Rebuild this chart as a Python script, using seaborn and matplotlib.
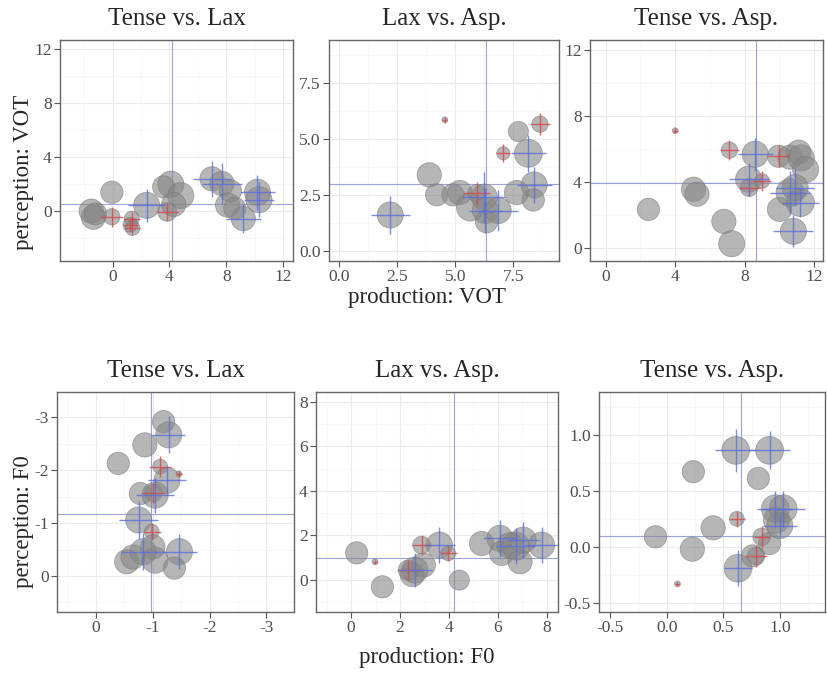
import numpy as np
import pandas as pd
import seaborn as sns
import matplotlib.pyplot as plt
from matplotlib.ticker import FixedLocator, FormatStrFormatter

# ---- data: x, y, n (circle size), bar group, x half-width, y half-width ----
# VOT, Tense vs. Lax
vot_tl_x = [-1.5, -1.35, -1.2, -0.05, -0.05, 1.35, 1.25, 1.4, 2.4, 3.6, 4.1, 4.8, 3.85, 4.3, 7.0, 7.7, 8.3, 8.1, 8.6, 9.2, 10.2, 10.3]
vot_tl_y = [0.0, -0.45, -0.2, 1.4, -0.42, -0.55, -1.0, -1.25, 0.43, 1.8, 2.0, 1.15, -0.05, 0.5, 2.4, 2.05, 1.5, 0.45, 0.2, -0.55, 1.4, 0.85]
vot_tl_n = [7, 7, 6, 6, 3.5, 3, 3, 3, 8, 6, 8, 8, 4.5, 7, 7, 7, 6, 7, 6, 7, 8, 8]
vot_tl_bar = ['none', 'none', 'none', 'none', 'weak', 'weak', 'weak', 'weak', 'strong', 'none', 'none', 'none', 'weak', 'none',
              'strong', 'strong', 'none', 'none', 'none', 'strong', 'strong', 'strong']
vot_tl_xe = [0, 0, 0, 0, 0.8, 0.55, 0.55, 0.5, 1.3, 0, 0, 0, 0.75, 0, 1.35, 1.4, 0, 0, 0, 1.25, 1.25, 1.05]
vot_tl_ye = [0, 0, 0, 0, 0.72, 0.5, 0.45, 0.45, 1.25, 0, 0, 0, 0.65, 0, 1.35, 1.55, 0, 0, 0, 1.1, 1.3, 1.3]
vot_tl_ref = (4.16, 0.5)

# VOT, Lax vs. Asp.
vot_la_x = [2.2, 3.88, 4.2, 4.55, 4.9, 5.2, 5.65, 5.92, 6.25, 6.3, 6.85, 6.35, 7.07, 7.64, 7.72, 8.15, 8.4, 8.36, 8.65]
vot_la_y = [1.6, 3.39, 2.5, 5.84, 2.5, 2.6, 1.95, 2.57, 2.4, 1.8, 1.8, 1.3, 4.35, 2.6, 5.32, 4.35, 2.94, 2.27, 5.65]
vot_la_n = [8, 7, 6, 1, 6, 7, 9, 4, 8, 8, 8, 6, 2.5, 7, 5, 9, 8, 6, 3.5]
vot_la_bar = ['strong', 'none', 'none', 'weak', 'none', 'none', 'none', 'weak', 'strong', 'strong', 'strong', 'none', 'weak',
              'none', 'none', 'strong', 'strong', 'none', 'weak']
vot_la_xe = [0.83, 0, 0, 0.1, 0, 0, 0, 0.57, 0.9, 0.7, 0.85, 0, 0.3, 0, 0, 0.75, 0.75, 0, 0.45]
vot_la_ye = [0.85, 0, 0, 0.12, 0, 0, 0, 0.52, 1.1, 1.0, 0.9, 0, 0.4, 0, 0, 0.82, 0.82, 0, 0.5]
vot_la_ref = (6.31, 2.97)

# VOT, Tense vs. Asp.
vot_ta_x = [2.46, 4.0, 5.05, 5.25, 6.8, 7.25, 7.12, 8.6, 8.22, 8.99, 8.25, 9.95, 10.6, 11.1, 11.25, 11.5, 10.0, 10.6, 10.9, 11.2, 10.8]
vot_ta_y = [2.33, 7.1, 3.55, 3.25, 1.6, 0.25, 5.92, 5.68, 4.16, 4.05, 3.65, 5.55, 5.5, 5.8, 5.45, 4.75, 2.33, 3.35, 3.65, 2.74, 1.0]
vot_ta_n = [6, 1, 7, 7, 7, 8, 3.5, 8, 8, 3, 4, 6, 7, 7, 8, 8, 7, 9, 8, 9, 8]
vot_ta_bar = ['none', 'weak', 'none', 'none', 'none', 'none', 'weak', 'strong', 'strong', 'weak', 'weak', 'weak', 'none', 'none',
              'none', 'none', 'none', 'strong', 'strong', 'strong', 'strong']
vot_ta_xe = [0, 0.15, 0, 0, 0, 0, 0.55, 1.0, 1.15, 0.5, 0.6, 0.62, 0, 0, 0, 0, 0, 1.15, 1.1, 1.06, 1.15]
vot_ta_ye = [0, 0.15, 0, 0, 0, 0, 0.6, 1.0, 1.0, 0.6, 0.5, 0.66, 0, 0, 0, 0, 0, 1.3, 1.1, 0.9, 0.96]
vot_ta_ref = (8.66, 3.95)

# F0, Tense vs. Lax
f0_tl_x = [-1.19, -1.28, -0.86, -0.39, -1.13, -1.46, -1.25, -0.78, -1.01, -1.04, -0.75, -0.98, -0.54, -0.65, -0.83, -1.04, -1.0, -1.47, -1.38]
f0_tl_y = [-2.92, -2.67, -2.48, -2.13, -2.07, -1.93, -1.81, -1.56, -1.57, -1.53, -1.06, -0.84, -0.27, -0.36, -0.46, -0.3, -0.55, -0.46, -0.15]
f0_tl_n = [6, 8, 7, 6, 3, 1, 8, 6, 4, 8, 8, 3, 7, 7, 8, 8, 7, 8, 6]
f0_tl_bar = ['none', 'strong', 'none', 'none', 'weak', 'weak', 'strong', 'none', 'weak', 'strong', 'strong', 'weak', 'none', 'none',
             'strong', 'none', 'none', 'strong', 'none']
f0_tl_xe = [0, 0.29, 0, 0, 0.19, 0.05, 0.34, 0, 0.2, 0.34, 0.34, 0.16, 0, 0, 0.39, 0, 0, 0.31, 0]
f0_tl_ye = [0, 0.35, 0, 0, 0.2, 0.05, 0.28, 0, 0.19, 0.33, 0.36, 0.16, 0, 0, 0.35, 0, 0, 0.33, 0]
f0_tl_ref = (-0.96, -1.17)

# F0, Lax vs. Asp.
f0_la_x = [0.23, 0.98, 1.28, 2.5, 2.95, 2.34, 2.61, 2.88, 3.61, 3.97, 4.42, 5.33, 6.08, 6.15, 6.5, 6.73, 6.9, 7.03, 7.78]
f0_la_y = [1.22, 0.82, -0.3, 0.25, 0.67, 0.45, 0.45, 1.57, 1.57, 1.2, 0.0, 1.64, 1.87, 1.2, 1.55, 1.52, 0.82, 1.79, 1.57]
f0_la_n = [6, 1, 6, 7, 7, 5, 8, 4, 8, 3, 5, 7, 8, 7, 8, 9, 7, 8, 8]
f0_la_bar = ['none', 'weak', 'none', 'none', 'none', 'weak', 'strong', 'weak', 'strong', 'weak', 'none', 'none', 'strong', 'none',
             'none', 'strong', 'none', 'strong', 'strong']
f0_la_xe = [0, 0.08, 0, 0, 0, 0.48, 0.68, 0.41, 0.65, 0.34, 0, 0, 0.71, 0, 0, 0.8, 0, 0.7, 0.68]
f0_la_ye = [0, 0.08, 0, 0, 0, 0.45, 0.75, 0.45, 0.82, 0.34, 0, 0, 0.82, 0, 0, 0.82, 0, 0.8, 0.82]
f0_la_ref = (4.21, 1.01)

# F0, Tense vs. Asp.
f0_ta_x = [-0.1, 0.094, 0.235, 0.226, 0.41, 0.61, 0.62, 0.63, 0.81, 0.76, 0.79, 0.84, 0.91, 0.91, 0.97, 0.96, 1.03, 1.0]
f0_ta_y = [0.09, -0.33, 0.67, -0.02, 0.17, 0.86, 0.25, -0.19, 0.61, -0.08, -0.08, 0.09, 0.03, 0.86, 0.24, 0.34, 0.34, 0.19]
f0_ta_n = [6, 1, 6, 7, 7, 9, 3, 9, 6, 6, 4, 4, 6, 9, 8, 9, 9, 8]
f0_ta_bar = ['none', 'weak', 'none', 'none', 'none', 'strong', 'weak', 'strong', 'none', 'none', 'weak', 'weak', 'none', 'strong',
             'none', 'strong', 'strong', 'strong']
f0_ta_xe = [0, 0.02, 0, 0, 0, 0.18, 0.07, 0.12, 0, 0, 0.1, 0.07, 0, 0.18, 0, 0.16, 0.19, 0.15]
f0_ta_ye = [0, 0.02, 0, 0, 0, 0.19, 0.07, 0.16, 0, 0, 0.1, 0.1, 0, 0.17, 0, 0.16, 0.16, 0.1]
f0_ta_ref = (0.66, 0.1)

titles = ['Tense vs. Lax', 'Lax vs. Asp.', 'Tense vs. Asp.']

sns.set_style('white')
plt.rcParams['font.family'] = ['Liberation Serif', 'DejaVu Serif']
plt.rcParams['axes.unicode_minus'] = False

fig = plt.figure(figsize=(8.27, 6.73), dpi=100)

W, H = 827, 673
# panel boxes in pixels: left, top, right, bottom
boxes = [(60, 40, 293, 261), (329, 40, 559, 261), (590, 40, 823, 261),
         (57, 392, 294, 612), (316, 392, 558, 612), (599, 392, 825, 612)]

panels = [
    (vot_tl_x, vot_tl_y, vot_tl_n, vot_tl_bar, vot_tl_xe, vot_tl_ye, vot_tl_ref,
     (-3.7, 12.7), (-3.7, 12.7), [0, 4, 8, 12], [0, 4, 8, 12], '%g', '%g'),
    (vot_la_x, vot_la_y, vot_la_n, vot_la_bar, vot_la_xe, vot_la_ye, vot_la_ref,
     (-0.44, 9.47), (-0.45, 9.4), [0, 2.5, 5, 7.5], [0, 2.5, 5, 7.5], '%.1f', '%.1f'),
    (vot_ta_x, vot_ta_y, vot_ta_n, vot_ta_bar, vot_ta_xe, vot_ta_ye, vot_ta_ref,
     (-0.9, 12.5), (-0.8, 12.6), [0, 4, 8, 12], [0, 4, 8, 12], '%g', '%g'),
    (f0_tl_x, f0_tl_y, f0_tl_n, f0_tl_bar, f0_tl_xe, f0_tl_ye, f0_tl_ref,
     (0.69, -3.49), (0.68, -3.48), [0, -1, -2, -3], [0, -1, -2, -3], '%g', '%g'),
    (f0_la_x, f0_la_y, f0_la_n, f0_la_bar, f0_la_xe, f0_la_ye, f0_la_ref,
     (-1.43, 8.45), (-1.43, 8.43), [0, 2, 4, 6, 8], [0, 2, 4, 6, 8], '%g', '%g'),
    (f0_ta_x, f0_ta_y, f0_ta_n, f0_ta_bar, f0_ta_xe, f0_ta_ye, f0_ta_ref,
     (-0.6, 1.4), (-0.58, 1.38), [-0.5, 0, 0.5, 1.0], [-0.5, 0, 0.5, 1.0], '%.1f', '%.1f'),
]

bar_colors = {'weak': '#d9464a', 'strong': '#5a6fdc'}

for i, (px, py, pn, pbar, pxe, pye, ref, xl, yl, xt, yt, xf, yf) in enumerate(panels):
    l, t, r, b = boxes[i]
    ax = fig.add_axes([l / W, 1 - b / H, (r - l) / W, (b - t) / H])
    df = pd.DataFrame({'x': px, 'y': py, 'n': pn, 'bar': pbar, 'xe': pxe, 'ye': pye})

    ax.axvline(ref[0], color='#9aa3da', lw=0.8, zorder=1)
    ax.axhline(ref[1], color='#9aa3da', lw=0.8, zorder=1)

    sns.scatterplot(data=df, x='x', y='y', size='n', sizes=(18, 450), size_norm=(1, 10),
                    color='#868686', alpha=0.6, edgecolor='#7a7a7a', linewidth=0.6,
                    legend=False, ax=ax, zorder=2)
    for g in ['weak', 'strong']:
        sub = df[df['bar'] == g]
        ax.errorbar(sub['x'], sub['y'], xerr=sub['xe'], yerr=sub['ye'], fmt='none',
                    ecolor=bar_colors[g], elinewidth=1.0, alpha=0.8, capsize=0, zorder=3)

    ax.set_xlim(*xl)
    ax.set_ylim(*yl)
    ax.xaxis.set_major_locator(FixedLocator(xt))
    ax.yaxis.set_major_locator(FixedLocator(yt))
    dx = (xt[1] - xt[0]) / 2
    dy = (yt[1] - yt[0]) / 2
    ax.xaxis.set_minor_locator(FixedLocator([xt[0] - dx + k * 2 * dx for k in range(len(xt) + 1)]))
    ax.yaxis.set_minor_locator(FixedLocator([yt[0] - dy + k * 2 * dy for k in range(len(yt) + 1)]))
    ax.xaxis.set_major_formatter(FormatStrFormatter(xf))
    ax.yaxis.set_major_formatter(FormatStrFormatter(yf))
    ax.grid(which='major', color='#ebebeb', lw=0.8)
    ax.grid(which='minor', color='#f4f4f4', lw=0.5)
    ax.set_axisbelow(True)
    ax.tick_params(which='major', length=4, width=0.8, color='#555555', pad=2,
                   labelsize=12.5, labelcolor='#4d4d4d', left=True, bottom=True)
    ax.tick_params(which='minor', length=0)
    for s in ax.spines.values():
        s.set_color('#666666')
        s.set_linewidth(1.0)
    ax.set_xlabel('')
    ax.set_ylabel('')
    ax.set_title(titles[i % 3], fontsize=18, pad=11)

fig.text(24 / W, 1 - 172 / H, 'perception: VOT', rotation=90, ha='center', va='center', fontsize=16.5)
fig.text(427 / W, 1 - 303 / H, 'production: VOT', ha='center', va='baseline', fontsize=16.5)
fig.text(24 / W, 1 - 522 / H, 'perception: F0', rotation=90, ha='center', va='center', fontsize=16.5)
fig.text(427 / W, 1 - 663 / H, 'production: F0', ha='center', va='baseline', fontsize=16.5)

fig.savefig('out.png', dpi=100)
